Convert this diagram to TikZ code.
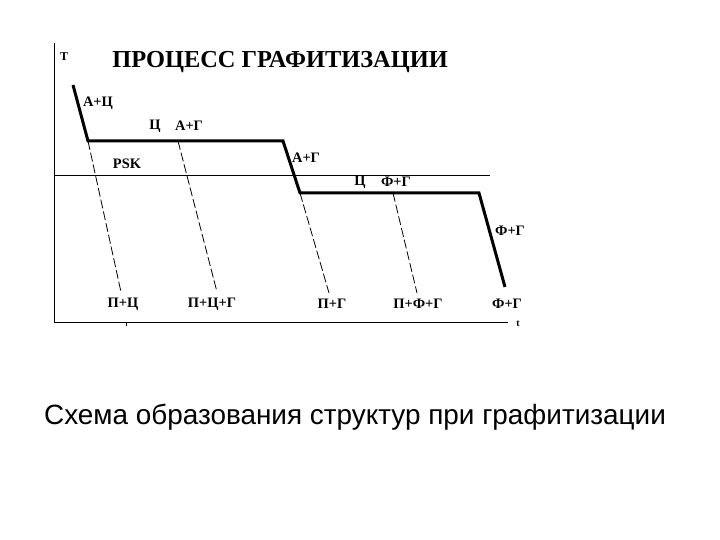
\documentclass[tikz,border=0pt]{standalone}
\usepackage{fontspec}
\setmainfont{Liberation Serif}
\newfontfamily\captionfont{Liberation Sans}
\usepackage{tikz}

\begin{document}
\begin{tikzpicture}[x=1bp, y=-1bp,
    phase/.style={font=\fontsize{14.5}{16}\selectfont\bfseries, inner sep=0pt},
    curve/.style={line width=3bp, line join=miter},
    split/.style={line width=0.8bp, dash pattern=on 9bp off 3bp},
    axis/.style={line width=1bp}]
  \useasboundingbox (0,0) rectangle (720,540);

  % axes
  \coordinate (origin) at (54,322);
  \coordinate (ytop) at (54,43);
  \coordinate (xend) at (508,322);
  \draw[axis] (ytop) -- (origin) -- (xend);
  \coordinate (tick) at (126,322);
  \draw[line width=0.6bp] (tick) -- ++(0,4);
  \node[font=\fontsize{12}{14}\selectfont\bfseries] (tlabel) at (64,57) {T};
  \node[font=\fontsize{10}{12}\selectfont\bfseries] (timelabel) at (518,324) {t};
  \node[font=\fontsize{24.5}{28}\selectfont\bfseries] (title) at (280,62) {ПРОЦЕСС ГРАФИТИЗАЦИИ};

  % PSK line
  \coordinate (pskl) at (54,175);
  \coordinate (pskr) at (490,175);
  \draw[line width=0.8bp] (pskl) -- (pskr);
  \node[phase] (psk) at (127,164) {PSK};

  % cooling curve
  \coordinate (c0) at (73,85);
  \coordinate (c1) at (88,141);
  \coordinate (c2) at (283,141);
  \coordinate (c3) at (300,193);
  \coordinate (c4) at (479,193);
  \coordinate (c5) at (505,287);
  \draw[curve] (c0) -- (c1) -- (c2) -- (c3) -- (c4) -- (c5);

  % phase boundaries
  \coordinate (d1) at (121,292);
  \coordinate (s2) at (178,141);
  \coordinate (d2) at (217,292);
  \coordinate (d3) at (329,293);
  \coordinate (s4) at (393,193);
  \coordinate (d4) at (417,293);
  \draw[split] (c1) -- (d1);
  \draw[split] (s2) -- (d2);
  \draw[split] (c3) -- (d3);
  \draw[split] (s4) -- (d4);

  % phases
  \node[phase] (ac) at (98,103) {А+Ц};
  \node[phase] (c) at (155,126) {Ц};
  \node[phase] (ag) at (189,126) {А+Г};
  \node[phase] (ag2) at (306,158) {А+Г};
  \node[phase] (c2l) at (360,182) {Ц};
  \node[phase] (fg) at (396,182) {Ф+Г};
  \node[phase] (fg2) at (510,231) {Ф+Г};
  \node[phase] (pc) at (123,304) {П+Ц};
  \node[phase] (pcg) at (212,304) {П+Ц+Г};
  \node[phase] (pg) at (332,304) {П+Г};
  \node[phase] (pfg) at (418,304) {П+Ф+Г};
  \node[phase] (fg3) at (507,304) {Ф+Г};

  \node[font=\captionfont\fontsize{28}{32}\selectfont] (caption) at (355,417)
    {Схема образования структур при графитизации};
\end{tikzpicture}
\end{document}
